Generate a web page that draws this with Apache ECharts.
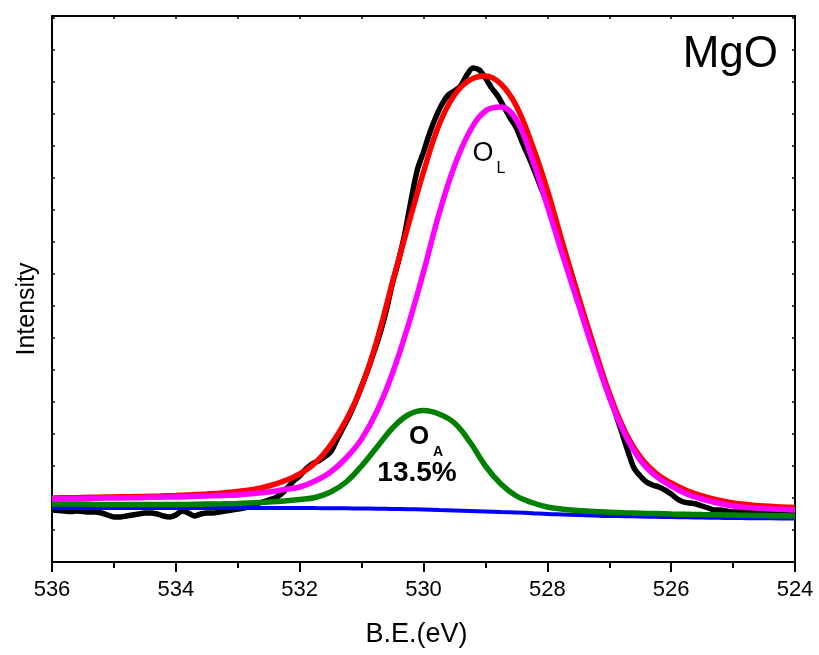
<!DOCTYPE html>
<html>
<head>
<meta charset="utf-8">
<script src="https://cdn.jsdelivr.net/npm/echarts@6/dist/echarts.min.js"></script>
<style>
html,body{margin:0;padding:0;background:#fff;}
#chart{width:819px;height:655px;}
</style>
</head>
<body>
<div id="chart"></div>
<script>
// Binding energy grid for the fitted curves (eV)
const fitBE = [536, 535.75, 535.5, 535.25, 535, 534.75, 534.5, 534.25, 534, 533.75, 533.5, 533.25, 533, 532.75, 532.5, 532.25, 532, 531.75, 531.5, 531.25, 531, 530.75, 530.5, 530.25, 530, 529.75, 529.5, 529.25, 529, 528.75, 528.5, 528.25, 528, 527.75, 527.5, 527.25, 527, 526.75, 526.5, 526.25, 526, 525.75, 525.5, 525.25, 525, 524.75, 524.5, 524.25, 524];
// Shirley background (blue)
const background = [54, 54, 54, 54, 54, 54, 54, 54, 54, 54, 54, 54, 54, 54, 54, 54, 54, 53.9, 53.8, 53.7, 53.5, 53.3, 53, 52.8, 52.5, 52, 51.5, 51, 50.5, 50, 49.5, 48.8, 48, 47.5, 47, 46.5, 46, 45.8, 45.5, 45.2, 45, 44.7, 44.5, 44.2, 44, 43.8, 43.7, 43.6, 43.5];
// O_A component (green)
const peakOA = [58, 58, 58, 57.5, 57.5, 57.5, 57.5, 57.5, 57.5, 57.7, 58, 58.2, 58.5, 59.2, 60, 61, 62.5, 64.5, 70, 80, 96, 115, 134, 147, 151.5, 148, 139, 120, 96, 78, 66, 59.5, 55, 52.8, 51.5, 50.5, 49.8, 49.2, 48.8, 48.4, 48, 47.7, 47.4, 47.2, 47, 46.7, 46.5, 46.2, 46];
// O_L component (magenta)
const peakOL = [63, 63.2, 63.5, 63.8, 64, 64.2, 64.5, 64.8, 65, 65.5, 66, 66.5, 67, 68.5, 70, 72.5, 75, 81, 90, 104, 123, 151, 189, 236, 290, 348, 396, 431, 451, 455, 442, 404, 356, 306, 258, 210, 165, 128, 102, 86, 76, 68, 63, 59, 56, 54.5, 53.5, 52.7, 52];
// Envelope (red)
const envelope = [64, 64.2, 64.5, 64.8, 65, 65.3, 65.6, 66, 66.5, 67.2, 68, 69, 70.5, 72.5, 76, 81, 88, 99, 117, 142, 175, 222, 280, 336, 390, 437, 467, 482, 486, 478, 456, 418, 372, 318, 266, 216, 169, 131, 105, 89, 79, 71.5, 66, 62, 59, 57.3, 56, 55, 54.5];

// Measured spectrum (black)
const rawBE = [536.0,535.9,535.8,535.7,535.6,535.5,535.4,535.3,535.2,535.1,535.0,534.9,534.8,534.7,534.6,534.5,534.4,534.3,534.2,534.1,534.0,533.9,533.8,533.7,533.6,533.5,533.4,533.3,533.2,533.1,533.0,532.9,532.8,532.7,532.6,532.5,532.4,532.3,532.2,532.1,532.0,531.9,531.8,531.7,531.6,531.5,531.4,531.3,531.2,531.1,531.0,530.9,530.8,530.7,530.6,530.5,530.4,530.3,530.2,530.1,530.0,529.9,529.8,529.7,529.6,529.5,529.4,529.3,529.2,529.1,529.0,528.9,528.8,528.7,528.6,528.5,528.4,528.3,528.2,528.1,528.0,527.9,527.8,527.7,527.6,527.5,527.4,527.3,527.2,527.1,527.0,526.9,526.8,526.7,526.6,526.5,526.4,526.3,526.2,526.1,526.0,525.9,525.8,525.7,525.6,525.5,525.4,525.3,525.2,525.1,525.0,524.9,524.8,524.7,524.6,524.5,524.4,524.3,524.2,524.1,524.0];
const rawIntensity = [52,51.5,51,50.5,51,50.5,50,50,49,47,45,45,46,47,48,49,49,48,46,45,47,51,49,46,48,49,49,50,51,52,53,54,56,58,60,62,64,68,74,81,86,93,98,101,105,110,122,134,146,160,176,192,210,229,252,279,302,329,362,392,410,429,445,458,467,471,476,487,494,492,484,474,466,455,444,434,419,405,390,374,359,342,326,306,286,264,244,225,204,184,166,149,130,111,94,86,80,77,75,72,68,63,60,59,58,56,54,52,52,51,50,50,50,49.5,49,49,49,49,49,49,49];

// Axis settings
const xMin = 524, xMax = 536, xStep = 2;
const yMin = 0, yMax = 546, yStep = 32;

function pairs(xs, ys){ return xs.map((x,i)=>[x, ys[i]]); }

const chart = echarts.init(document.getElementById('chart'), null, {renderer:'canvas'});
const FONT = 'Liberation Sans, Arial, sans-serif';
const lineBase = {type:'line', showSymbol:false, symbol:'none', animation:false, xAxisIndex:0, yAxisIndex:0};

const option = {
  backgroundColor:'#fff',
  animation:false,
  grid:{left:52, right:24, top:16, bottom:93, show:false},
  xAxis:[
    {type:'value', position:'bottom', min:xMin, max:xMax, interval:xStep, inverse:true,
     name:'B.E.(eV)', nameLocation:'middle', nameGap:59,
     nameTextStyle:{fontFamily:FONT, fontSize:27, color:'#000', padding:[0,14,0,0]},
     axisLine:{show:true, onZero:false, lineStyle:{color:'#000', width:2}},
     axisTick:{show:true, inside:false, length:10, lineStyle:{color:'#000', width:2}},
     minorTick:{show:true, splitNumber:2, length:6, lineStyle:{color:'#000', width:2}},
     axisLabel:{fontFamily:FONT, fontSize:22, color:'#000', margin:17},
     splitLine:{show:false}},
    {type:'value', position:'top', min:xMin, max:xMax, interval:1, inverse:true,
     axisLine:{show:true, onZero:false, lineStyle:{color:'#000', width:2}},
     axisTick:{show:true, inside:true, length:3, lineStyle:{color:'#000', width:1.5}},
     axisLabel:{show:false}, splitLine:{show:false}}
  ],
  yAxis:[
    {type:'value', position:'left', min:yMin, max:yMax, interval:yStep,
     axisLine:{show:true, onZero:false, lineStyle:{color:'#000', width:2}},
     axisTick:{show:true, inside:true, length:3, lineStyle:{color:'#000', width:1.5}},
     axisLabel:{show:false}, splitLine:{show:false}},
    {type:'value', position:'right', min:yMin, max:yMax, interval:yStep,
     axisLine:{show:true, onZero:false, lineStyle:{color:'#000', width:2}},
     axisTick:{show:true, inside:true, length:3, lineStyle:{color:'#000', width:1.5}},
     axisLabel:{show:false}, splitLine:{show:false}}
  ],
  series:[
    Object.assign({}, lineBase, {name:'Raw', data:pairs(rawBE, rawIntensity), smooth:0.3, z:2,
      lineStyle:{color:'#000000', width:5.5}}),
    Object.assign({}, lineBase, {name:'Background', data:pairs(fitBE, background), smooth:0.4, z:3,
      lineStyle:{color:'#0000ff', width:4}}),
    Object.assign({}, lineBase, {name:'OA', data:pairs(fitBE, peakOA), smooth:0.4, z:4,
      lineStyle:{color:'#008000', width:5.5}}),
    Object.assign({}, lineBase, {name:'Envelope', data:pairs(fitBE, envelope), smooth:0.4, z:5,
      lineStyle:{color:'#ff0000', width:5.5}}),
    Object.assign({}, lineBase, {name:'OL', data:pairs(fitBE, peakOL), smooth:0.4, z:6,
      lineStyle:{color:'#ff00ff', width:5.5}})
  ],
  graphic:[
    {type:'text', x:27, y:309, rotation:Math.PI/2, style:{text:'Intensity', fontFamily:FONT, fontSize:25, fill:'#000', align:'center', verticalAlign:'middle'}},
    {type:'text', right:41, top:33, style:{text:'MgO', fontFamily:FONT, fontSize:44, fill:'#000'}},
    {type:'text', x:483, y:154, style:{text:'O', fontFamily:FONT, fontSize:27, fill:'#000', align:'center', verticalAlign:'middle'}},
    {type:'text', x:501, y:169, style:{text:'L', fontFamily:FONT, fontSize:16, fill:'#000', align:'center', verticalAlign:'middle'}},
    {type:'text', x:419, y:437, style:{text:'O', fontFamily:FONT, fontSize:26, fontWeight:'bold', fill:'#000', align:'center', verticalAlign:'middle'}},
    {type:'text', x:438, y:452, style:{text:'A', fontFamily:FONT, fontSize:14, fontWeight:'bold', fill:'#000', align:'center', verticalAlign:'middle'}},
    {type:'text', x:417, y:473, style:{text:'13.5%', fontFamily:FONT, fontSize:28, fontWeight:'bold', fill:'#000', align:'center', verticalAlign:'middle'}}
  ]
};
chart.setOption(option);
</script>
</body>
</html>
